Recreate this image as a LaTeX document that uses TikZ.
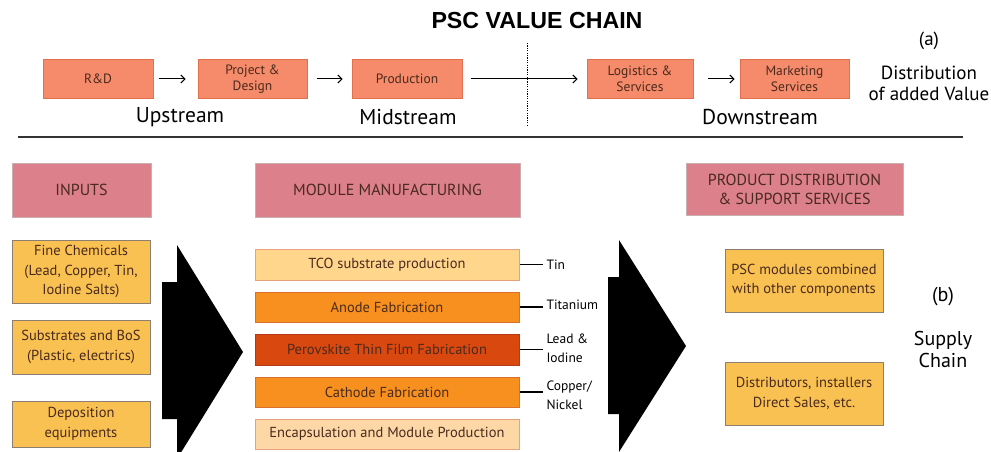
\documentclass[tikz,border=0pt]{standalone}
\usepackage{fontspec}
\setmainfont{PT Sans}
\newfontfamily\titlefont{Liberation Sans}
\usetikzlibrary{arrows.meta}
\definecolor{topfill}{HTML}{F58B6A}
\definecolor{topdraw}{HTML}{E2704C}
\definecolor{pinkfill}{HTML}{DC808C}
\definecolor{pinkdraw}{HTML}{C9AFAF}
\definecolor{yelfill}{HTML}{F8C152}
\definecolor{yeldraw}{HTML}{8C7E70}
\definecolor{lightfill}{HTML}{FFD68C}
\definecolor{lightdraw}{HTML}{E9A27E}
\definecolor{orfill}{HTML}{F7901F}
\definecolor{ordraw}{HTML}{D9702E}
\definecolor{perfill}{HTML}{D9480F}
\definecolor{perdraw}{HTML}{B23A18}
\definecolor{encfill}{HTML}{FDD8A6}
\definecolor{txtbrown}{HTML}{4A2A1E}
\tikzset{
  box/.style={draw, line width=1pt, inner sep=0pt, align=center, text=txtbrown},
  topbox/.style={box, fill=topfill, draw=topdraw, font=\fontsize{13.5}{16.5}\selectfont},
  headbox/.style={box, fill=pinkfill, draw=pinkdraw, font=\fontsize{16}{19}\selectfont},
  yelbox/.style={box, fill=yelfill, draw=yeldraw, font=\fontsize{14.5}{19.5}\selectfont},
  modbox/.style={box, minimum width=264pt, font=\fontsize{14.5}{16}\selectfont},
  flow/.style={line width=1pt, -{Straight Barb[length=4pt,width=8pt]}},
  stream/.style={font=\fontsize{21.5}{24}\selectfont},
  side/.style={font=\fontsize{19}{21}\selectfont, align=center},
  mat/.style={font=\fontsize{13.5}{19}\selectfont, anchor=west, align=left},
  tick/.style={line width=1.3pt}
}
\begin{document}
\begin{tikzpicture}[x=1pt,y=-1pt]
\useasboundingbox (0,0) rectangle (991,452);
% title
\node[font=\titlefont\bfseries\fontsize{23.2}{25}\selectfont] (title) at (537,21) {PSC VALUE CHAIN};
% top row
\node[topbox, minimum width=110pt, minimum height=38pt] (rd) at (98,79) {R\&D};
\node[topbox, minimum width=109pt, minimum height=38pt] (proj) at (252.5,79) {Project \&\\Design};
\node[topbox, minimum width=110pt, minimum height=38pt] (prod) at (407,79) {Production};
\node[topbox, minimum width=106pt, minimum height=38pt] (log) at (640,79) {Logistics \&\\Services};
\node[topbox, minimum width=109pt, minimum height=38pt] (mkt) at (794.5,79) {Marketing\\Services};
\draw[flow, shorten <=5pt, shorten >=12pt] (rd) -- (proj);
\draw[flow, shorten <=9pt, shorten >=9pt] (proj) -- (prod);
\draw[flow, shorten <=8pt, shorten >=9pt] (prod) -- (log);
\draw[flow, shorten <=14pt, shorten >=5pt] (log) -- (mkt);
\coordinate (dtop) at (527,43);
\coordinate (dbot) at (527,125);
\draw[line width=0.8pt, dash pattern=on 1.2pt off 1.2pt] (dtop) -- (dbot);
\node[stream] (up) at (180,117) {Upstream};
\node[stream] (mid) at (408,117) {Midstream};
\node[stream] (down) at (760,117) {Downstream};
\node[side] (a) at (929,41) {(a)};
\node[side] (dist) at (929,83) {Distribution\\of added Value};
% rule
\coordinate (r1) at (18,137);
\coordinate (r2) at (963,137);
\draw[line width=2.5pt, draw=black!80] (r1) -- (r2);
% headers
\node[headbox, minimum width=139pt, minimum height=54pt] (inputs) at (81.5,190) {INPUTS};
\node[headbox, minimum width=265pt, minimum height=54pt] (module) at (387.5,190) {MODULE MANUFACTURING};
\node[headbox, minimum width=217pt, minimum height=52pt] (product) at (794.5,189) {PRODUCT DISTRIBUTION\\\&~SUPPORT SERVICES};
% inputs
\node[yelbox, minimum width=138pt, minimum height=63pt] (fine) at (81,271.5) {Fine Chemicals\\(Lead, Copper, Tin,\\Iodine Salts)};
\node[yelbox, minimum width=138pt, minimum height=54pt] (sub) at (81,347) {Substrates and BoS\\(Plastic, electrics)};
\node[yelbox, minimum width=138pt, minimum height=46pt] (dep) at (81,424) {Deposition\\equipments};
% big arrows
\fill[black] (177,245) -- (243,352) -- (177,459) -- (177,419) -- (162,419) -- (162,282) -- (177,282) -- cycle;
\fill[black] (619,240) -- (686,346) -- (619,452) -- (619,414) -- (608,414) -- (608,277) -- (619,277) -- cycle;
% module steps
\node[modbox, fill=lightfill, draw=lightdraw, minimum height=31pt] (tco) at (387,264.5) {TCO substrate production};
\node[modbox, fill=orfill, draw=ordraw, minimum height=30pt] (anode) at (387,307) {Anode Fabrication};
\node[modbox, fill=perfill, draw=perdraw, minimum height=31pt] (perov) at (387,349.5) {Perovskite Thin Film Fabrication};
\node[modbox, fill=orfill, draw=ordraw, minimum height=30pt] (cath) at (387,392) {Cathode Fabrication};
\node[modbox, fill=encfill, draw=lightdraw, minimum height=30pt] (enc) at (387,434) {Encapsulation and Module Production};
% materials
\node[mat] (tin) at (543,265) {Tin};
\node[mat] (ti) at (543,305) {Titanium};
\node[mat] (lead) at (543,348) {Lead \&\\Iodine};
\node[mat] (cu) at (543,395) {Copper/\\Nickel};
\draw[tick] (tco.east) -- (tco.east -| tin.west);
\draw[tick] (anode.east) -- (anode.east -| ti.west);
\draw[tick] (perov.east) -- (perov.east -| lead.west);
\draw[tick] (cath.east) -- (cath.east -| cu.west);
% outputs
\node[yelbox, minimum width=158pt, minimum height=63pt] (psc) at (804,280.5) {PSC modules combined\\with other components};
\node[yelbox, minimum width=158pt, minimum height=63pt] (distr) at (804,393.5) {Distributors, installers\\Direct Sales, etc.};
\node[side, font=\fontsize{20}{22}\selectfont] (b) at (943,297) {(b)};
\node[side, font=\fontsize{20}{22}\selectfont] (supply) at (943,349) {Supply\\Chain};
\end{tikzpicture}
\end{document}
